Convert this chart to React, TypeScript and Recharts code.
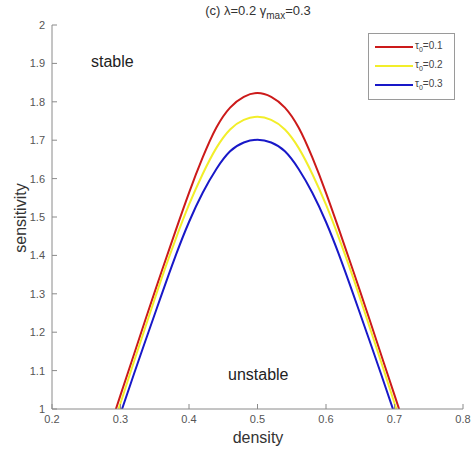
import { LineChart, Line, XAxis, YAxis } from "recharts";

const density = [
  0.29, 0.3, 0.32, 0.34, 0.36, 0.38, 0.4, 0.42, 0.44, 0.46, 0.48, 0.5,
  0.52, 0.54, 0.56, 0.58, 0.6, 0.62, 0.64, 0.66, 0.68, 0.7, 0.71,
];
const tau01 = [
  0.982, 1.036, 1.144, 1.252, 1.358, 1.462, 1.563, 1.655, 1.733, 1.785, 1.813, 1.823,
  1.813, 1.785, 1.733, 1.655, 1.563, 1.462, 1.358, 1.252, 1.144, 1.036, 0.982,
];
const tau02 = [
  0.96, 1.015, 1.125, 1.233, 1.34, 1.44, 1.532, 1.612, 1.68, 1.728, 1.753, 1.761,
  1.753, 1.728, 1.68, 1.612, 1.532, 1.44, 1.34, 1.233, 1.125, 1.015, 0.96,
];
const tau03 = [
  0.94, 0.988, 1.093, 1.196, 1.298, 1.397, 1.487, 1.563, 1.625, 1.671, 1.694, 1.701,
  1.694, 1.671, 1.625, 1.563, 1.487, 1.397, 1.298, 1.196, 1.093, 0.988, 0.94,
];
const xTicks = [0.2, 0.3, 0.4, 0.5, 0.6, 0.7, 0.8];
const yTicks = [1, 1.1, 1.2, 1.3, 1.4, 1.5, 1.6, 1.7, 1.8, 1.9, 2];

const series = [
  { key: "t1", label: "0.1", color: "#cc1a1a" },
  { key: "t2", label: "0.2", color: "#f2ee2a" },
  { key: "t3", label: "0.3", color: "#1818c8" },
];

const data = density.map((d, i) => ({ d, t1: tau01[i], t2: tau02[i], t3: tau03[i] }));

const font = "'Liberation Sans', Arial, sans-serif";
const axisColor = "#8a8a8a";
const tickStyle = { fontSize: 11, fill: "#555", fontFamily: font };

export default function App() {
  return (
    <div style={{ position: "absolute", left: 0, top: 0, width: 476, height: 451, background: "#fff" }}>
      <LineChart width={476} height={451} data={data} margin={{ top: 25, right: 13, left: 0, bottom: 0 }}>
        <XAxis
          dataKey="d"
          type="number"
          domain={[0.2, 0.8]}
          ticks={xTicks}
          height={42}
          tickSize={-5}
          tickMargin={11}
          stroke={axisColor}
          tick={tickStyle}
        />
        <XAxis
          xAxisId="top"
          orientation="top"
          type="number"
          domain={[0.2, 0.8]}
          ticks={xTicks}
          height={0}
          tickSize={-5}
          tick={false}
          stroke={axisColor}
        />
        <YAxis
          type="number"
          domain={[1, 2]}
          ticks={yTicks}
          allowDataOverflow
          width={52}
          tickSize={-5}
          tickMargin={12}
          stroke={axisColor}
          tick={tickStyle}
        />
        <YAxis
          yAxisId="right"
          orientation="right"
          type="number"
          domain={[1, 2]}
          ticks={yTicks}
          width={0}
          tickSize={-5}
          tick={false}
          stroke={axisColor}
        />
        {series.map((s) => (
          <Line
            key={s.key}
            dataKey={s.key}
            type="natural"
            stroke={s.color}
            strokeWidth={2}
            dot={false}
            isAnimationActive={false}
          />
        ))}
      </LineChart>
      <div
        style={{
          position: "absolute",
          left: 368,
          top: 33,
          border: "1px solid #9a9a9a",
          background: "#fff",
          width: 87,
          height: 67,
          boxSizing: "border-box",
          paddingTop: 3,
          fontFamily: font,
          fontSize: 10,
          color: "#444",
        }}
      >
        {series.map((s) => (
          <div key={s.key} style={{ display: "flex", alignItems: "center", height: 19 }}>
            <span style={{ display: "inline-block", width: 38, height: 2, background: s.color, marginLeft: 6, marginRight: 2 }} />
            <span>
              τ<sub style={{ fontSize: 7 }}>0</sub>={s.label}
            </span>
          </div>
        ))}
      </div>
      <div style={{ position: "absolute", left: 0, width: 516, top: 3, textAlign: "center", fontFamily: font, fontSize: 13, color: "#333" }}>
        (c) λ=0.2 γ<sub style={{ fontSize: 10 }}>max</sub>=0.3
      </div>
      <div style={{ position: "absolute", left: 91, top: 53, fontFamily: font, fontSize: 16, color: "#222" }}>stable</div>
      <div style={{ position: "absolute", left: 228, top: 366, fontFamily: font, fontSize: 16, color: "#222" }}>unstable</div>
      <div style={{ position: "absolute", left: 0, width: 516, top: 429, textAlign: "center", fontFamily: font, fontSize: 16, color: "#333" }}>
        density
      </div>
      <div
        style={{
          position: "absolute",
          left: 21,
          top: 218,
          transform: "translate(-50%, -50%) rotate(-90deg)",
          fontFamily: font,
          fontSize: 16,
          color: "#333",
          whiteSpace: "nowrap",
        }}
      >
        sensitivity
      </div>
    </div>
  );
}
